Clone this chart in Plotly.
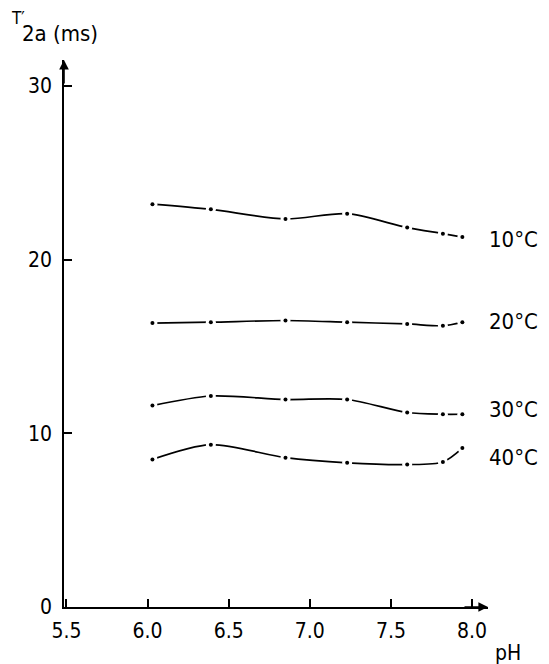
import plotly.graph_objects as go

ph = [6.03, 6.39, 6.85, 7.23, 7.60, 7.82, 7.94]
t10 = [23.2, 22.9, 22.35, 22.65, 21.85, 21.5, 21.3]
t20 = [16.35, 16.4, 16.5, 16.4, 16.3, 16.2, 16.4]
t30 = [11.6, 12.15, 11.95, 11.95, 11.2, 11.1, 11.1]
t40 = [8.5, 9.35, 8.6, 8.3, 8.2, 8.35, 9.15]
series = [("10°C", t10, 21.15), ("20°C", t20, 16.45), ("30°C", t30, 11.35), ("40°C", t40, 8.6)]

x_ticks = [5.5, 6.0, 6.5, 7.0, 7.5, 8.0]
x_ticklabels = ["5.5", "6.0", "6.5", "7.0", "7.5", "8.0"]
y_ticks = [0, 10, 20, 30]

FONT = "DejaVu Sans Condensed, Liberation Sans Narrow, DejaVu Sans, sans-serif"

fig = go.Figure()
for name, vals, ly in series:
    fig.add_trace(go.Scatter(x=ph, y=vals, mode="lines", line=dict(color="black", width=1.7, shape="spline", smoothing=0.8),
                             hoverinfo="skip", showlegend=False))
    fig.add_trace(go.Scatter(x=ph, y=vals, mode="markers", marker=dict(color="white", size=10),
                             hoverinfo="skip", showlegend=False))
    fig.add_trace(go.Scatter(x=ph, y=vals, mode="markers", marker=dict(color="black", size=4),
                             name=name, showlegend=False))
    fig.add_annotation(x=8.09, y=ly, text=name, showarrow=False, xanchor="left", yanchor="middle",
                       font=dict(family=FONT, size=22, color="black"))

# axis arrows
fig.add_annotation(x=0, y=1, xref="paper", yref="paper", ax=0, ay=25, text="", showarrow=True,
                   arrowhead=2, arrowsize=1.2, arrowwidth=1.6, arrowcolor="black", xanchor="center")
fig.add_annotation(x=1, y=0, xref="paper", yref="paper", ax=-25, ay=0, text="", showarrow=True,
                   arrowhead=2, arrowsize=1.2, arrowwidth=1.6, arrowcolor="black")

# axis titles (positions given in pixels, converted below)
fig.add_annotation(x=9, y=664 - 18, xref="paper", yref="paper", text="T′", showarrow=False,
                   font=dict(family=FONT, size=17, color="black"), xanchor="left", yanchor="middle")
fig.add_annotation(x=20, y=664 - 34, xref="paper", yref="paper", text="2a (ms)", showarrow=False,
                   font=dict(family=FONT, size=22, color="black"), xanchor="left", yanchor="middle")
fig.add_annotation(x=493, y=664 - 653, xref="paper", yref="paper", text="pH", showarrow=False,
                   font=dict(family=FONT, size=21, color="black"), xanchor="left", yanchor="middle")

W, H = 549, 664
L, R, T, B = 64, 61, 60, 57
for a in fig.layout.annotations:
    if a.xref == "paper" and a.text != "":
        a.x = (a.x - L) / (W - L - R)
        a.y = (a.y - B) / (H - T - B)

fig.update_layout(
    width=W, height=H, margin=dict(l=L, r=R, t=T, b=B),
    paper_bgcolor="white", plot_bgcolor="white",
    font=dict(family=FONT, size=21, color="black"),
    xaxis=dict(range=[5.485, 8.098], tickvals=x_ticks, ticktext=x_ticklabels, ticks="inside", ticklen=8,
               tickwidth=1.5, tickcolor="black", showline=True, linecolor="black", linewidth=1.6,
               showgrid=False, zeroline=False, ticklabelstandoff=4),
    yaxis=dict(range=[0, 31.5], tickvals=y_ticks, ticks="inside", ticklen=8, tickwidth=1.5,
               tickcolor="black", showline=True, linecolor="black", linewidth=1.6,
               showgrid=False, zeroline=False, ticklabelstandoff=6),
)
fig.write_html("out.html", config={"displayModeBar": False},
               post_script="document.body.style.margin='0';document.body.style.overflow='hidden';")
